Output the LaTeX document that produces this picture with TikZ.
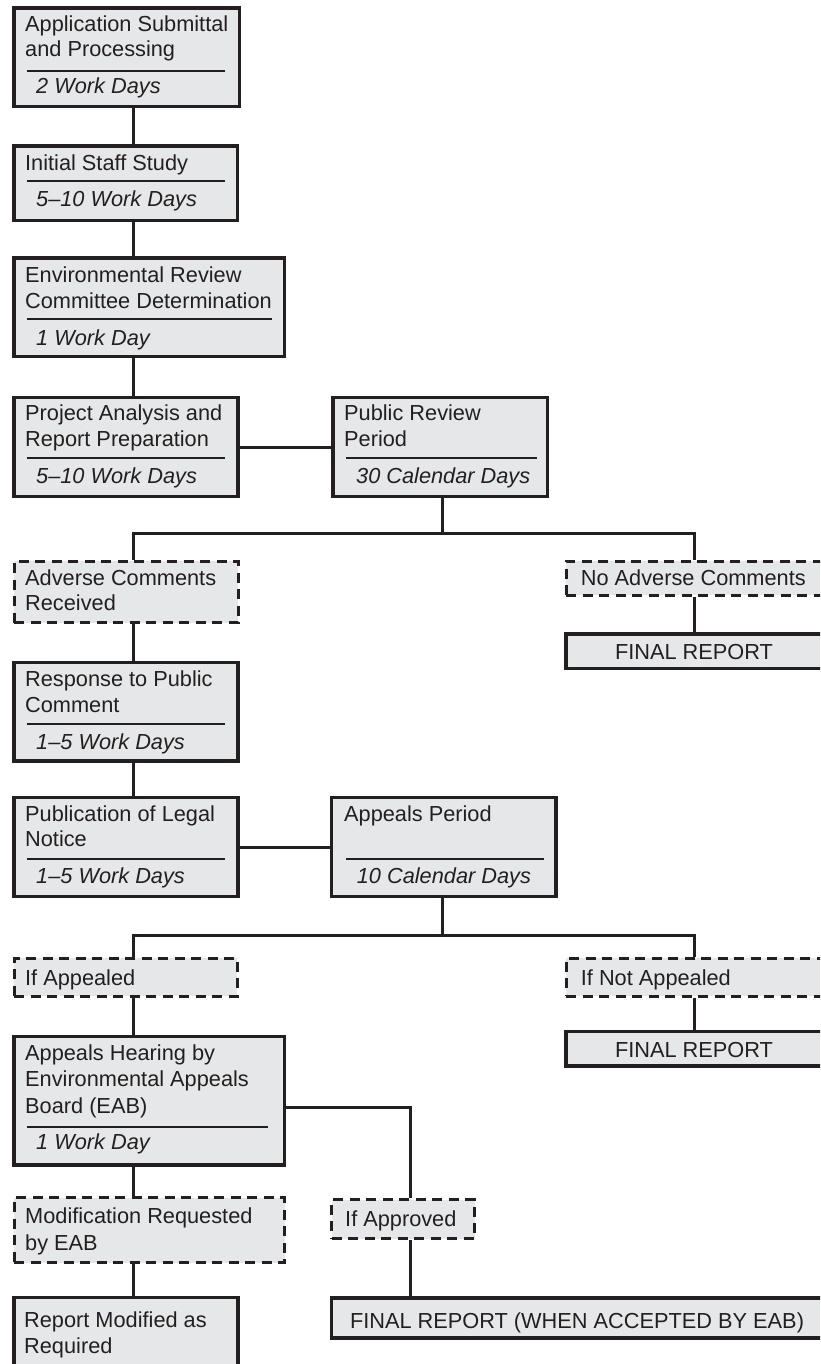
\documentclass[tikz,border=0pt]{standalone}
\usepackage{fontspec}
\setmainfont{Liberation Sans}
\usetikzlibrary{fit}
\definecolor{ink}{RGB}{35,31,32}
\definecolor{boxfill}{RGB}{230,231,232}
\tikzset{
  solidbox/.style={draw=ink, fill=boxfill, line width=3.2pt, inner sep=0pt, rectangle},
  dashbox/.style={draw=ink, fill=boxfill, line width=3pt, dash pattern=on 10pt off 6.5pt, inner sep=0pt, rectangle},
  txt/.style={anchor=base west, inner sep=0pt, text=ink, font=\fontsize{21.75}{26}\selectfont},
  dur/.style={anchor=base west, inner sep=0pt, text=ink, font=\fontsize{21.75}{26}\selectfont\itshape},
  ctxt/.style={anchor=base, inner sep=0pt, text=ink, font=\fontsize{21.75}{26}\selectfont},
  rulesep/.style={draw=ink, line width=1.9pt},
  link/.style={draw=ink, line width=3pt, line join=miter},
}
\begin{document}
\begin{tikzpicture}[x=1pt,y=-1pt]
\useasboundingbox (0,0) rectangle (820,1364);
\clip (0,0) rectangle (820,1364);

% boxes
\node[solidbox, fit={(14,8)(239.5,106.5)}] (app) {};
\node[solidbox, fit={(14,146)(237.5,220.5)}] (init) {};
\node[solidbox, fit={(14,258)(284.5,356.5)}] (erc) {};
\node[solidbox, fit={(14,397.5)(238,496.5)}] (proj) {};
\node[solidbox, fit={(333,397.5)(547.5,496.5)}] (pub) {};
\node[dashbox, fit={(14,561)(238,622.5)}] (adv) {};
\node[dashbox, fit={(566,561)(834,595)}] (noadv) {};
\node[solidbox, fit={(566,634)(834,668.5)}] (fin1) {};
\node[solidbox, fit={(14,662.5)(238,761)}] (resp) {};
\node[solidbox, fit={(14,797.5)(238,896.5)}] (legal) {};
\node[solidbox, fit={(331.5,797.5)(556,896.5)}] (appeal) {};
\node[dashbox, fit={(14,958)(237,996)}] (ifapp) {};
\node[dashbox, fit={(566,958)(834,996)}] (ifnot) {};
\node[solidbox, fit={(566,1031.5)(834,1066)}] (fin2) {};
\node[solidbox, fit={(14,1036.5)(284.5,1165)}] (hear) {};
\node[dashbox, fit={(14,1197.5)(284.5,1262.5)}] (modreq) {};
\node[dashbox, fit={(331.5,1199.5)(474.5,1238.5)}] (ifok) {};
\node[solidbox, fit={(331.5,1298)(824,1338)}] (fin3) {};
\node[solidbox, fit={(14,1297.5)(238,1385)}] (modrep) {};

% separator rules
\draw[rulesep] (27,70.7) -- (225,70.7);
\draw[rulesep] (27,181) -- (225,181);
\draw[rulesep] (27,319.3) -- (272,319.3);
\draw[rulesep] (27,458) -- (225,458);
\draw[rulesep] (346,458) -- (536.7,458);
\draw[rulesep] (27,724) -- (225,724);
\draw[rulesep] (27,859.3) -- (225,859.3);
\draw[rulesep] (346,859.3) -- (544,859.3);
\draw[rulesep] (27,1126.7) -- (268.3,1126.7);

% texts
\node[txt] (appA) at (25,32) {Application Submittal};
\node[txt] (appB) at (25,57) {and Processing};
\node[dur] (appC) at (36,94) {2 Work Days};
\node[txt] (initA) at (25,171) {Initial Staff Study};
\node[dur] (initC) at (36,207) {5\textendash10 Work Days};
\node[txt] (ercA) at (25,282) {Environmental Review};
\node[txt] (ercB) at (25,308) {Committee Determination};
\node[dur] (ercC) at (36,345) {1 Work Day};
\node[txt] (projA) at (25,420.7) {Project Analysis and};
\node[txt] (projB) at (25,446.7) {Report Preparation};
\node[dur] (projC) at (36,483) {5\textendash10 Work Days};
\node[txt] (pubA) at (344,420.7) {Public Review};
\node[txt] (pubB) at (344,446.7) {Period};
\node[dur] (pubC) at (356,483) {30 Calendar Days};
\node[txt] (advA) at (25,585) {Adverse Comments};
\node[txt] (advB) at (25,610.7) {Received};
\node[txt] (noadvA) at (580.7,585) {No Adverse Comments};
\node[ctxt] (fin1A) at (694,659) {FINAL REPORT};
\node[txt] (respA) at (25,686.7) {Response to Public};
\node[txt] (respB) at (25,712.7) {Comment};
\node[dur] (respC) at (36,749.3) {1\textendash5 Work Days};
\node[txt] (legalA) at (25,821.7) {Publication of Legal};
\node[txt] (legalB) at (25,846.7) {Notice};
\node[dur] (legalC) at (36,883.3) {1\textendash5 Work Days};
\node[txt] (appealA) at (344,821.7) {Appeals Period};
\node[dur] (appealC) at (356.7,883.3) {10 Calendar Days};
\node[txt] (ifappA) at (25,985) {If Appealed};
\node[txt] (ifnotA) at (580.7,985) {If Not Appealed};
\node[ctxt] (fin2A) at (694,1057) {FINAL REPORT};
\node[txt] (hearA) at (25,1060) {Appeals Hearing by};
\node[txt] (hearB) at (25,1086.7) {Environmental Appeals};
\node[txt] (hearC) at (25,1113.3) {Board (EAB)};
\node[dur] (hearD) at (36,1149.3) {1 Work Day};
\node[txt] (modreqA) at (25,1223.3) {Modification Requested};
\node[txt] (modreqB) at (25,1250) {by EAB};
\node[txt] (ifokA) at (345,1226) {If Approved};
\node[ctxt] (fin3A) at (577,1328) {FINAL REPORT (WHEN ACCEPTED BY EAB)};
\node[txt] (modrepA) at (24,1327.3) {Report Modified as};
\node[txt] (modrepB) at (24,1353.3) {Required};

% connector helpers
\coordinate (spL) at (133.3,0);
\coordinate (spN) at (694.7,0);
\coordinate (j1) at (442.7,533.3);
\coordinate (j2) at (442.7,935.3);
\coordinate (j3) at (410,1107.3);

% connectors
\draw[link] (app.south -| spL) -- (init.north -| spL);
\draw[link] (init.south -| spL) -- (erc.north -| spL);
\draw[link] (erc.south -| spL) -- (proj.north -| spL);
\draw[link] (proj.east) -- (pub.west);
\draw[link] (pub.south -| j1) -- (j1);
\draw[link] (adv.north -| spL) -- (spL |- j1) -- (spN |- j1) -- (noadv.north -| spN);
\draw[link] (noadv.south -| spN) -- (fin1.north -| spN);
\draw[link] (adv.south -| spL) -- (resp.north -| spL);
\draw[link] (resp.south -| spL) -- (legal.north -| spL);
\draw[link] (legal.east) -- (appeal.west);
\draw[link] (appeal.south -| j2) -- (j2);
\draw[link] (ifapp.north -| spL) -- (spL |- j2) -- (spN |- j2) -- (ifnot.north -| spN);
\draw[link] (ifnot.south -| spN) -- (fin2.north -| spN);
\draw[link] (ifapp.south -| spL) -- (hear.north -| spL);
\draw[link] (hear.east |- j3) -- (j3) -- (ifok.north -| j3);
\draw[link] (hear.south -| spL) -- (modreq.north -| spL);
\draw[link] (modreq.south -| spL) -- (modrep.north -| spL);
\draw[link] (ifok.south -| j3) -- (fin3.north -| j3);
\end{tikzpicture}
\end{document}
